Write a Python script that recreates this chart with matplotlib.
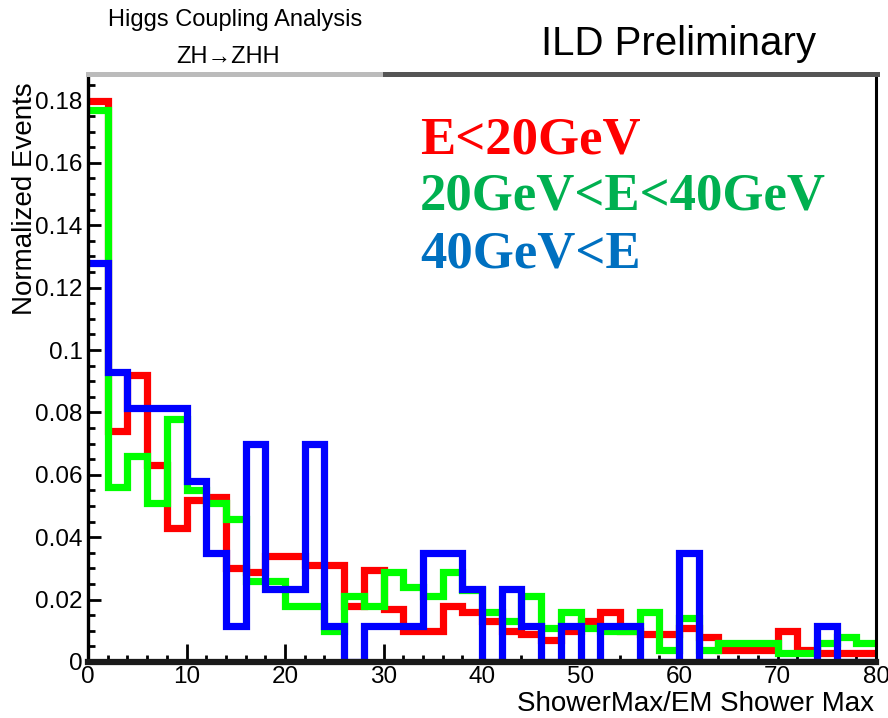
import numpy as np
import matplotlib
matplotlib.use("Agg")
import matplotlib.pyplot as plt
from matplotlib.ticker import MultipleLocator, FuncFormatter
from matplotlib.patches import Rectangle

# ---- data ----
bin_edges = np.linspace(0, 80, 41)
low_e = [0.180, 0.074, 0.092, 0.063, 0.043, 0.052, 0.053, 0.030, 0.029, 0.034,
         0.034, 0.031, 0.031, 0.018, 0.0295, 0.017, 0.010, 0.010, 0.018, 0.016,
         0.013, 0.010, 0.009, 0.007, 0.010, 0.013, 0.016, 0.010, 0.009, 0.009,
         0.011, 0.008, 0.004, 0.004, 0.004, 0.010, 0.004, 0.003, 0.003, 0.003]
mid_e = [0.177, 0.056, 0.066, 0.051, 0.078, 0.055, 0.051, 0.046, 0.026, 0.026,
         0.018, 0.018, 0.010, 0.021, 0.018, 0.029, 0.024, 0.021, 0.029, 0.023,
         0.016, 0.013, 0.021, 0.011, 0.016, 0.011, 0.010, 0.010, 0.016, 0.004,
         0.014, 0.004, 0.006, 0.006, 0.006, 0.003, 0.003, 0.006, 0.008, 0.006]
high_e = [0.128, 0.093, 0.0814, 0.0814, 0.0814, 0.058, 0.035, 0.0116, 0.0698, 0.0233,
          0.0233, 0.0698, 0.0116, 0.0, 0.0116, 0.0116, 0.0116, 0.035, 0.035, 0.0233,
          0.0, 0.0233, 0.0116, 0.0, 0.0116, 0.0, 0.0116, 0.0116, 0.0, 0.0,
          0.035, 0.0, 0.0, 0.0, 0.0, 0.0, 0.0, 0.0116, 0.0, 0.0]
series_labels = ["E<20GeV", "20GeV<E<40GeV", "40GeV<E"]
hist_colors = ["#ff0000", "#00ff00", "#0000ff"]
text_colors = ["#ff0000", "#00b050", "#0070c0"]
x_ticks = [0, 10, 20, 30, 40, 50, 60, 70, 80]
y_ticks = [0, 0.02, 0.04, 0.06, 0.08, 0.1, 0.12, 0.14, 0.16, 0.18]

W, H = 888, 718
fig = plt.figure(figsize=(W / 100, H / 100), dpi=100)
fig.patch.set_facecolor("white")

def fx(px):
    return px / W

def fy(py):
    return 1 - py / H

ax_l, ax_r, ax_t, ax_b = 88, 876, 74, 662
ax = fig.add_axes([fx(ax_l), fy(ax_b), fx(ax_r - ax_l), (ax_b - ax_t) / H])

sans = ["Liberation Sans", "DejaVu Sans"]

for vals, col in zip([low_e, mid_e, high_e], hist_colors):
    ax.stairs(vals, bin_edges, baseline=None, color=col, linewidth=5.2,
              joinstyle="miter", zorder=3)

ax.set_xlim(0, 80)
ax.set_ylim(0, 0.1885)

ax.set_xticks(x_ticks)
ax.xaxis.set_minor_locator(MultipleLocator(2))
ax.set_yticks(y_ticks)
ax.yaxis.set_minor_locator(MultipleLocator(0.005))
ax.yaxis.set_major_formatter(FuncFormatter(lambda v, p: "%g" % v))
ax.xaxis.set_major_formatter(FuncFormatter(lambda v, p: "%g" % v))

ax.tick_params(axis="both", which="both", direction="in", top=False, right=False,
               colors="black")
ax.tick_params(axis="y", which="major", length=9, width=2.0, pad=4)
ax.tick_params(axis="y", which="minor", length=5, width=2.0)
ax.tick_params(axis="x", which="major", length=13, width=2.0, pad=3)
ax.tick_params(axis="x", which="minor", length=5, width=2.0)
for lab in ax.get_xticklabels() + ax.get_yticklabels():
    lab.set_fontfamily(sans)
    lab.set_fontsize(17.5)

ax.spines["left"].set_linewidth(2.4)
ax.spines["left"].set_color("black")
ax.spines["bottom"].set_linewidth(4.5)
ax.spines["bottom"].set_color("#1a1a1a")
ax.spines["right"].set_linewidth(2.2)
ax.spines["right"].set_color("black")
ax.spines["top"].set_visible(False)
for s in ax.spines.values():
    s.set_zorder(5)

# top frame bar (grey shadow of title box + dark frame top)
fig.add_artist(Rectangle((fx(383), fy(77)), fx(880 - 383), 5 / H,
                         transform=fig.transFigure, facecolor="#555555",
                         edgecolor="none"))
fig.add_artist(Rectangle((fx(86), fy(77)), fx(383 - 86), 5 / H,
                         transform=fig.transFigure, facecolor="#bbbbbb",
                         edgecolor="none"))

# titles
fig.text(fx(235), fy(20), "Higgs Coupling Analysis", ha="center", va="center",
         fontsize=17, family=sans)
fig.text(fx(228), fy(57), "ZH\u2192ZHH", ha="center", va="center",
         fontsize=17, family=sans)
fig.text(fx(678), fy(44), "ILD Preliminary", ha="center", va="center",
         fontsize=29, family=sans)

# axis titles
fig.text(fx(25), fy(82), "Normalized Events", rotation=90, ha="center", va="top",
         fontsize=20, family=sans)
fig.text(fx(874), fy(711), "ShowerMax/EM Shower Max", ha="right", va="baseline",
         fontsize=20, family=sans)

# energy legend text
serif = ["Liberation Serif", "DejaVu Serif"]
for lab, col, base in zip(series_labels, text_colors, [153, 210, 268]):
    fig.text(fx(420), fy(base), lab, ha="left", va="baseline", color=col,
             fontsize=38, fontweight="bold", family=serif)

fig.savefig("out.png", dpi=100, facecolor="white")
